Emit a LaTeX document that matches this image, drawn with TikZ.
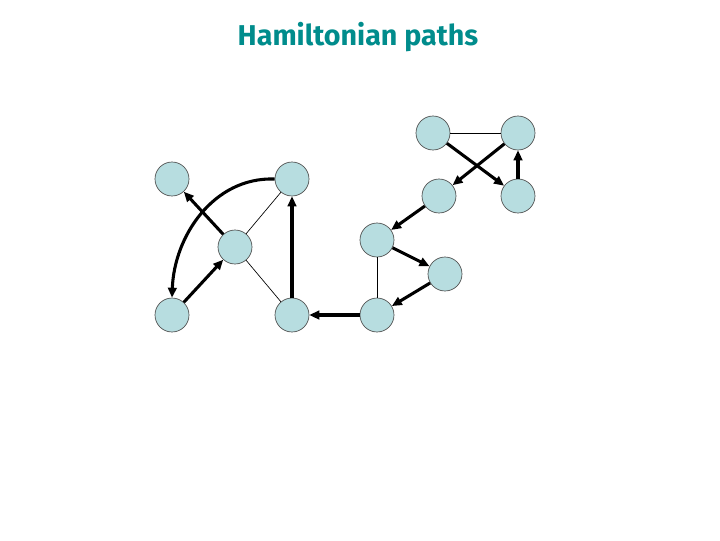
\documentclass[tikz,border=0pt]{standalone}
\usepackage{fontspec}
\setmainfont{Fira Sans}
\usetikzlibrary{arrows.meta}
\definecolor{nodefill}{RGB}{183,221,224}
\definecolor{titlecol}{RGB}{0,140,140}
\tikzset{
  vtx/.style={circle, draw=black!70, line width=0.5pt, fill=nodefill, minimum size=25.5pt, inner sep=0pt},
  thinedge/.style={line width=0.5pt, black},
  pathedge/.style={line width=2.3pt, black, -{Triangle[length=7.5pt,width=6.5pt]}},
}
\begin{document}
\begin{tikzpicture}[x=0.75pt,y=-0.75pt]
\useasboundingbox (0,0) rectangle (720,540);
\node[font=\bfseries\fontsize{21.5}{24}\selectfont, text=titlecol] (title) at (358,37) {Hamiltonian paths};
% left graph
\node[vtx] (A) at (172,179) {};
\node[vtx] (B) at (292,179) {};
\node[vtx] (C) at (235,247) {};
\node[vtx] (D) at (172,315) {};
\node[vtx] (E) at (292,315) {};
% right graph
\node[vtx] (J) at (433,133) {};
\node[vtx] (K) at (518,133) {};
\node[vtx] (I) at (439,196) {};
\node[vtx] (L) at (518,196) {};
\node[vtx] (F) at (377,240) {};
\node[vtx] (G) at (445,274) {};
\node[vtx] (H) at (377,315) {};
% thin edges
\draw[thinedge] (B) -- (C);
\draw[thinedge] (C) -- (E);
\draw[thinedge] (J) -- (K);
\draw[thinedge] (F) -- (H);
% hamiltonian path
\draw[pathedge] (J) -- (L);
\draw[pathedge] (L) -- (K);
\draw[pathedge] (K) -- (I);
\draw[pathedge] (I) -- (F);
\draw[pathedge] (F) -- (G);
\draw[pathedge] (G) -- (H);
\draw[pathedge] (H) -- (E);
\draw[pathedge] (E) -- (B);
\draw[pathedge] (B.west) to[out=178,in=88] (D.north);
\draw[pathedge] (D) -- (C);
\draw[pathedge] (C) -- (A);
\end{tikzpicture}
\end{document}
